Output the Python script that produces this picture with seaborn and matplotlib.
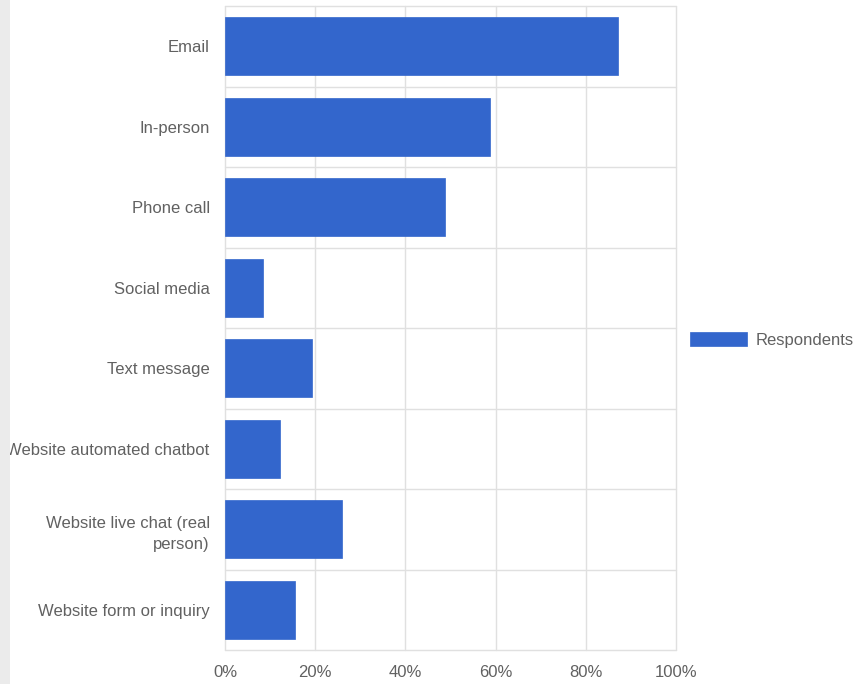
import numpy as np
import pandas as pd
import matplotlib
matplotlib.use('Agg')
import matplotlib.pyplot as plt
import seaborn as sns
from matplotlib.patches import Rectangle
from matplotlib.ticker import FixedLocator, PercentFormatter

# ================= 数据 =================
channels = ['Email', 'In-person', 'Phone call', 'Social media', 'Text message',
            'Website automated chatbot', 'Website live chat (real\nperson)',
            'Website form or inquiry']
respondents = [87.1, 58.7, 48.7, 8.4, 19.3, 12.1, 25.9, 15.6]
series_name = 'Respondents'
x_ticks = [0, 20, 40, 60, 80, 100]

df = pd.DataFrame({'channel': channels, 'pct': respondents, 'series': series_name})

# ================= 样式 =================
sns.set_style("white")
plt.rcParams['font.family'] = ['Liberation Sans', 'DejaVu Sans']
BAR = '#3366cc'
GRID = '#e0e0e0'
TXT = '#616161'
FS = 12

fig = plt.figure(figsize=(8.55, 6.84), dpi=100)
ax = fig.add_axes([225 / 855, 1 - 650 / 684, 451 / 855, 644 / 684])

sns.barplot(data=df, x='pct', y='channel', hue='series', palette=[BAR],
            width=0.72, ax=ax, saturation=1, edgecolor=BAR, linewidth=0.5)

ax.set_xlim(0, 100)
ax.set_ylim(len(channels) - 0.5, -0.5)
ax.xaxis.set_major_locator(FixedLocator(x_ticks))
ax.xaxis.set_major_formatter(PercentFormatter(decimals=0))
ax.yaxis.set_minor_locator(FixedLocator(np.arange(-0.5, len(channels), 1)))

for s in ax.spines.values():
    s.set_visible(False)

ax.grid(True, axis='x', which='major', color=GRID, linewidth=1)
ax.grid(True, axis='y', which='minor', color=GRID, linewidth=1)
ax.set_axisbelow(True)
ax.axvline(0, color='#c6c6c6', linewidth=1.2, zorder=0.5)

ax.tick_params(axis='y', which='major', length=0, pad=11, labelsize=FS, labelcolor=TXT)
ax.tick_params(axis='y', which='minor', length=9, width=1, color=GRID)
ax.tick_params(axis='x', which='major', length=0, pad=11, labelsize=FS, labelcolor=TXT)
for lbl in ax.get_yticklabels():
    lbl.set_linespacing(1.5)

# 边界网格线不要被裁掉
for t in ax.xaxis.get_major_ticks() + ax.yaxis.get_minor_ticks():
    t.gridline.set_clip_on(False)

ax.set_xlabel('')
ax.set_ylabel('')

ax.legend(loc='center left', bbox_to_anchor=(1.031, 0.481), frameon=False,
          borderpad=0, borderaxespad=0, handlelength=3.45, handleheight=0.9,
          handletextpad=0.5, fontsize=FS, labelcolor=TXT)

# 左侧灰条
fig.patches.append(Rectangle((0, 0), 10 / 855, 1, transform=fig.transFigure,
                             facecolor='#ebebeb', edgecolor='none', zorder=10))

plt.savefig('out.png', dpi=100)
